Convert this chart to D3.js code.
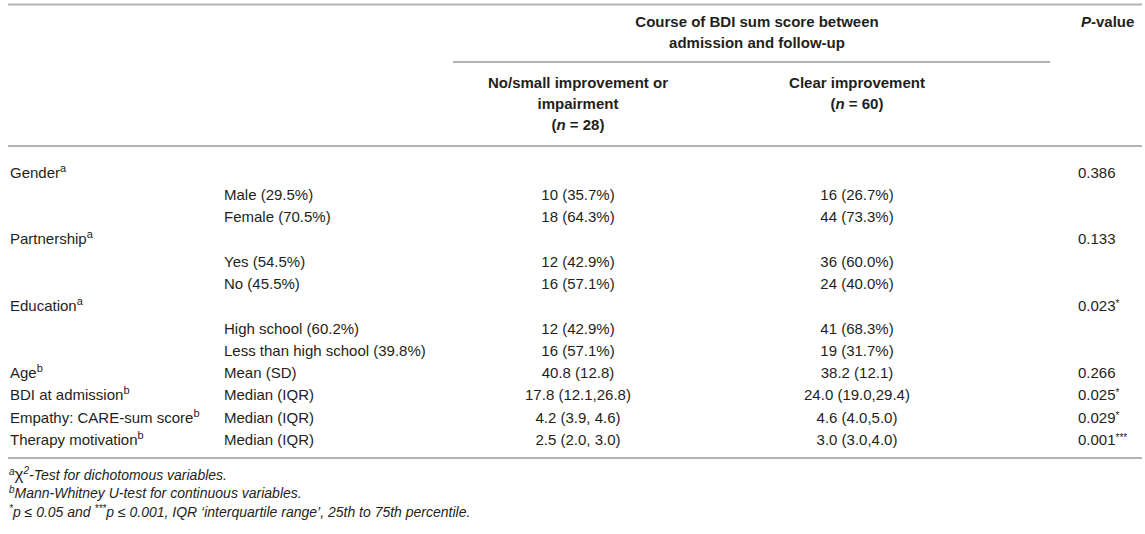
<!DOCTYPE html>
<html><head><meta charset="utf-8">
<script src="https://cdn.jsdelivr.net/npm/d3@7"></script>
<style>
body{margin:0;background:#fff;}
svg text{font-family:"Liberation Sans",Arial,Helvetica,sans-serif;fill:#231f20;}
</style></head>
<body><svg id="c" width="1145" height="534"></svg>
<script>
const variables = ["Gender","","","Partnership","","","Education","","","Age","BDI at admission","Empathy: CARE-sum score","Therapy motivation"];
const superscripts = ["a","","","a","","","a","","","b","b","b","b"];
const subLabels = ["","Male (29.5%)","Female (70.5%)","","Yes (54.5%)","No (45.5%)","","High school (60.2%)","Less than high school (39.8%)","Mean (SD)","Median (IQR)","Median (IQR)","Median (IQR)"];
const noImprovement = ["","10 (35.7%)","18 (64.3%)","","12 (42.9%)","16 (57.1%)","","12 (42.9%)","16 (57.1%)","40.8 (12.8)","17.8 (12.1,26.8)","4.2 (3.9, 4.6)","2.5 (2.0, 3.0)"];
const clearImprovement = ["","16 (26.7%)","44 (73.3%)","","36 (60.0%)","24 (40.0%)","","41 (68.3%)","19 (31.7%)","38.2 (12.1)","24.0 (19.0,29.4)","4.6 (4.0,5.0)","3.0 (3.0,4.0)"];
const pValues = ["0.386","","","0.133","","","0.023*","","","0.266","0.025*","0.029*","0.001***"];

const svg = d3.select("#c");
const fs = 15;
const lineColor = "#b3b3b3";

const rowY = d3.scalePoint().domain(d3.range(variables.length)).range([177.5, 445]);
const colX = {v:10, s:224, g1:578, g2:857, p:1078};

function hline(x1,x2,y){
  svg.append("line").attr("x1",x1).attr("x2",x2).attr("y1",y).attr("y2",y)
    .attr("stroke",lineColor).attr("stroke-width",2);
}
hline(8,1142,4.5);
hline(453,1050,62);
hline(8,1142,146);
hline(8,1142,458);

// headers
const hb = svg.append("g").attr("font-weight","bold").attr("font-size",fs);
const gc = 757;
hb.append("text").attr("x",gc).attr("y",27).attr("text-anchor","middle").text("Course of BDI sum score between");
hb.append("text").attr("x",gc).attr("y",48).attr("text-anchor","middle").text("admission and follow-up");
const pv = hb.append("text").attr("x",colX.p+3).attr("y",27);
pv.append("tspan").attr("font-style","italic").text("P");
pv.append("tspan").text("-value");
hb.append("text").attr("x",colX.g1).attr("y",88).attr("text-anchor","middle").text("No/small improvement or");
hb.append("text").attr("x",colX.g1).attr("y",109).attr("text-anchor","middle").text("impairment");
const n1 = hb.append("text").attr("x",colX.g1).attr("y",130).attr("text-anchor","middle");
n1.append("tspan").text("(");n1.append("tspan").attr("font-style","italic").text("n");n1.append("tspan").text(" = 28)");
hb.append("text").attr("x",colX.g2).attr("y",88).attr("text-anchor","middle").text("Clear improvement");
const n2 = hb.append("text").attr("x",colX.g2).attr("y",109).attr("text-anchor","middle");
n2.append("tspan").text("(");n2.append("tspan").attr("font-style","italic").text("n");n2.append("tspan").text(" = 60)");

// body
const body = svg.append("g").attr("font-size",fs);
const rows = body.selectAll("g.row").data(d3.range(variables.length)).join("g")
  .attr("transform", i => `translate(0,${rowY(i)})`);
rows.append("text").attr("x",colX.v).each(function(i){
  const t = d3.select(this);
  if(!variables[i]) return;
  t.append("tspan").text(variables[i]);
  if(superscripts[i]) t.append("tspan").attr("dy",-6).attr("font-size",11).text(superscripts[i]);
});
rows.append("text").attr("x",colX.s).text(i=>subLabels[i]);
rows.append("text").attr("x",colX.g1).attr("text-anchor","middle").text(i=>noImprovement[i]);
rows.append("text").attr("x",colX.g2).attr("text-anchor","middle").text(i=>clearImprovement[i]);
rows.append("text").attr("x",colX.p).each(function(i){
  const t = d3.select(this);
  const v = pValues[i]; if(!v) return;
  const m = v.match(/^([0-9.]+)(\**)$/);
  t.append("tspan").text(m[1]);
  if(m[2]) t.append("tspan").attr("dy",-4).attr("font-size",10).text(m[2]);
});

// footnotes
const fn = svg.append("g").attr("font-size",14).attr("font-style","italic");
const f1 = fn.append("text").attr("x",9).attr("y",480);
f1.append("tspan").attr("font-size",10).attr("dy",-5).text("a");
f1.append("tspan").attr("font-style","normal").attr("font-size",17).attr("dy",5).text("χ");
f1.append("tspan").attr("font-size",10).attr("dy",-6).text("2");
f1.append("tspan").attr("dy",6).text("-Test for dichotomous variables.");
const f2 = fn.append("text").attr("x",9).attr("y",498);
f2.append("tspan").attr("font-size",10).attr("dy",-5).text("b");
f2.append("tspan").attr("dy",5).text("Mann-Whitney U-test for continuous variables.");
const f3 = fn.append("text").attr("x",9).attr("y",517);
f3.append("tspan").attr("font-size",10).attr("dy",-5).text("*");
f3.append("tspan").attr("dy",5).text("p ≤ 0.05 and ");
f3.append("tspan").attr("font-size",10).attr("dy",-5).text("***");
f3.append("tspan").attr("dy",5).text("p ≤ 0.001, IQR ‘interquartile range’, 25th to 75th percentile.");
</script></body></html>
